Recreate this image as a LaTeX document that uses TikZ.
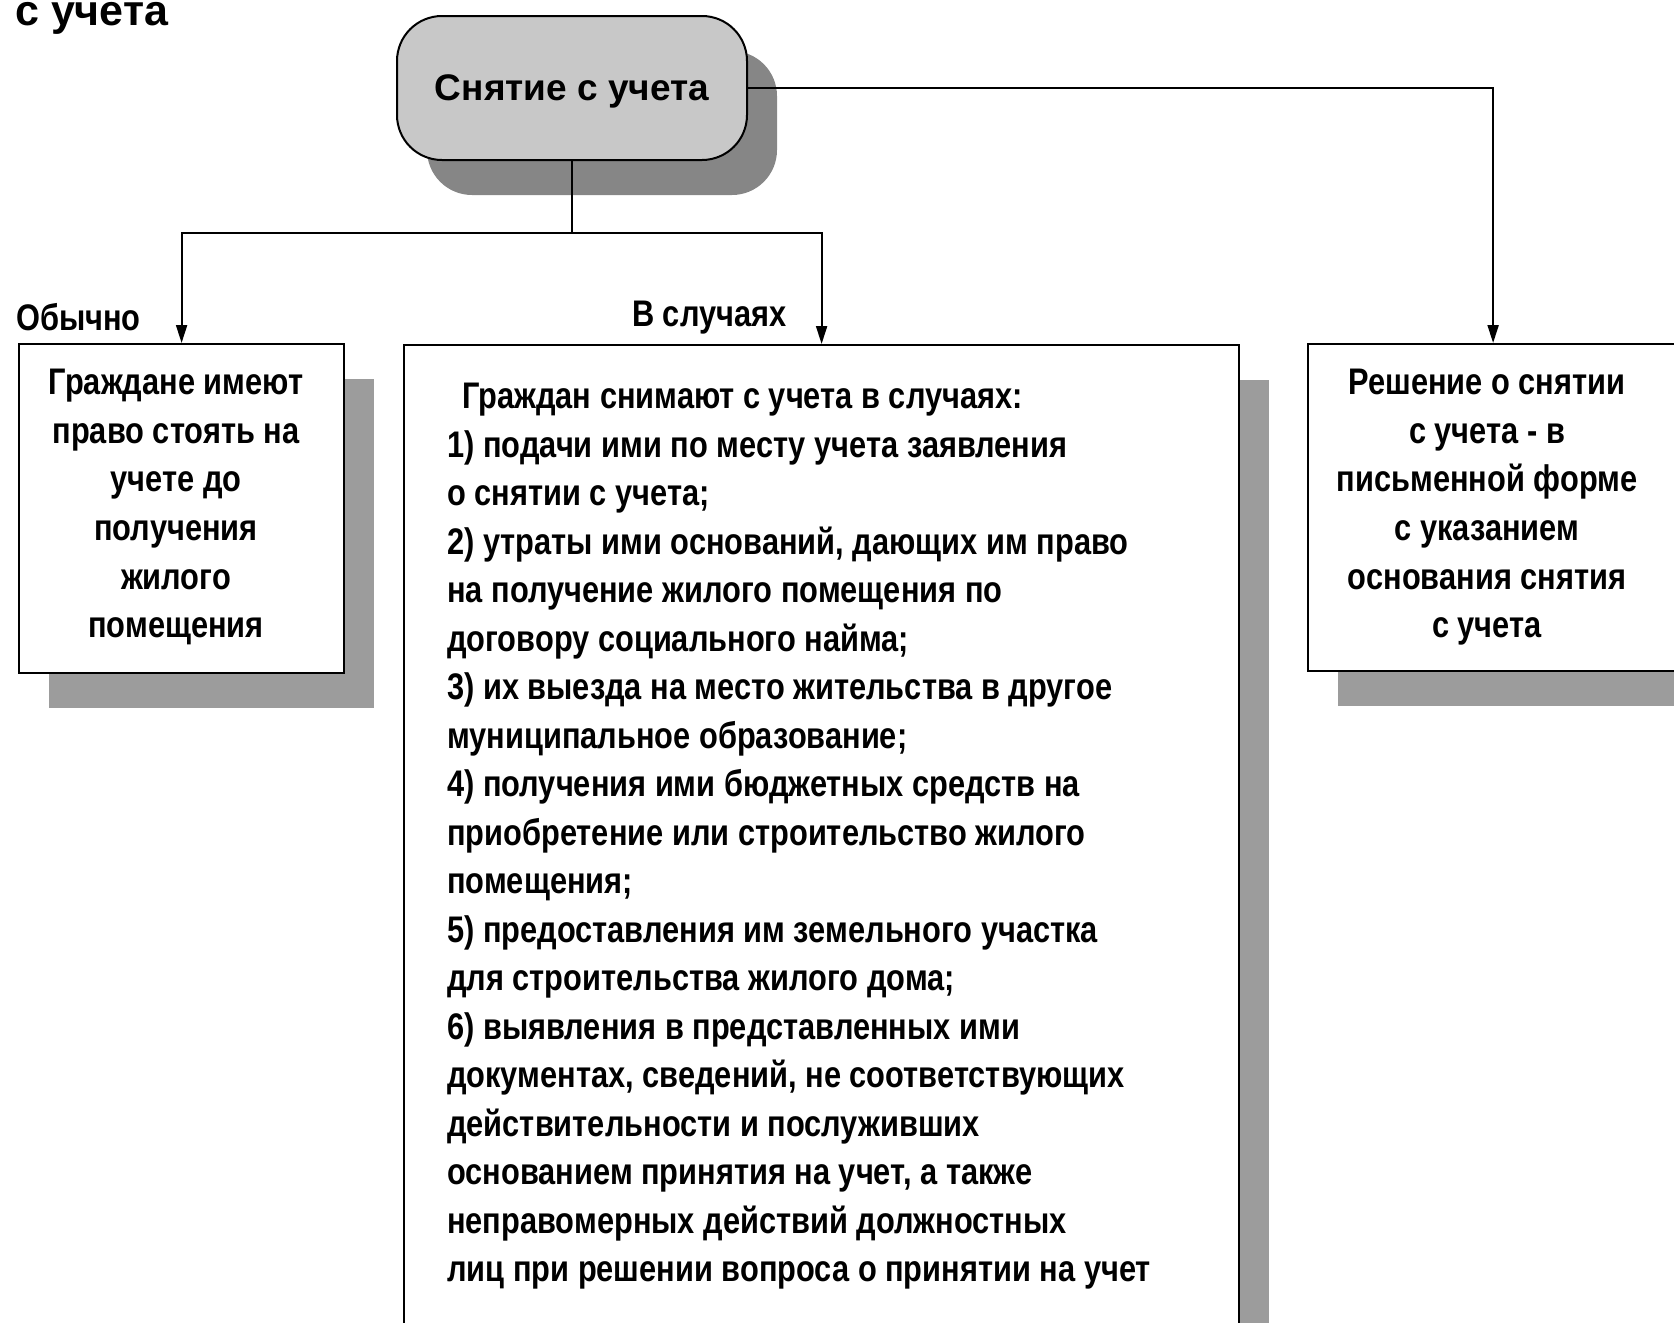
\documentclass[tikz,border=0pt]{standalone}
\usepackage{fontspec}
\setmainfont{Liberation Sans}
\newfontfamily\bodyfont{Liberation Sans}[FakeStretch=0.832]
\usetikzlibrary{arrows.meta,shadows}
\definecolor{stadfill}{HTML}{C8C8C8}
\definecolor{stadshadow}{HTML}{868686}
\definecolor{boxshadow}{HTML}{9C9C9C}
\newcommand\mystrut{\rule[-12pt]{0pt}{36pt}}
\begin{document}
\begin{tikzpicture}[x=1pt,y=-1pt,
  conn/.style={line width=2pt, draw=black},
  arr/.style={conn, -{Triangle[length=18pt,width=11pt]}},
  box/.style={draw=black, line width=2.2pt, fill=white, rectangle, inner sep=0pt, anchor=north west,
    drop shadow={shadow xshift=30pt, shadow yshift=-35pt, fill=boxshadow, opacity=1}},
  stadium/.style={draw=black, line width=2pt, fill=stadfill, rectangle, rounded corners=45pt,
    minimum width=350pt, minimum height=144pt, inner sep=0pt, text depth=0pt,
    font=\bfseries\fontsize{37}{44}\selectfont,
    drop shadow={shadow xshift=30pt, shadow yshift=-35pt, fill=stadshadow, opacity=1}},
  btext/.style={font=\bodyfont\bfseries\fontsize{37}{48.6}\selectfont, inner sep=0pt, align=center},
  lbl/.style={font=\bodyfont\bfseries\fontsize{37}{40}\selectfont, inner sep=0pt, anchor=base west},
  ]
\useasboundingbox (0,0) rectangle (1674,1323);
\clip (0,0) rectangle (1674,1323);

\node[font=\bfseries\fontsize{43}{50}\selectfont, anchor=base west, inner sep=0pt] (title) at (15,25) {с учета};

\node[stadium] (stad) at (572,88) {Снятие с учета};

\node[box, minimum width=325pt, minimum height=329pt] (lbox) at (18,343) {};
\node[box, minimum width=835pt, minimum height=1020pt] (mid) at (403,344) {};
\node[box, minimum width=370pt, minimum height=327pt] (rbox) at (1307,343) {};

\node[btext, anchor=north] (ltext) at (176,369) {\mystrut Граждане имеют\\право стоять на\\учете до\\получения\\жилого\\помещения};
\node[btext, anchor=north] (rtext) at (1487,369) {\mystrut Решение о снятии\\с учета - в\\письменной форме\\с указанием\\основания снятия\\с учета};
\node[btext, anchor=north west, align=left, font=\bodyfont\bfseries\fontsize{37}{48.5}\selectfont] (mtext) at (447,383) {\mystrut\hspace{15pt}Граждан снимают с учета в случаях:\\
1) подачи ими по месту учета заявления\\
о снятии с учета;\\
2) утраты ими оснований, дающих им право\\
на получение жилого помещения по\\
договору социального найма;\\
3) их выезда на место жительства в другое\\
муниципальное образование;\\
4) получения ими бюджетных средств на\\
приобретение или строительство жилого\\
помещения;\\
5) предоставления им земельного участка\\
для строительства жилого дома;\\
6) выявления в представленных ими\\
документах, сведений, не соответствующих\\
действительности и послуживших\\
основанием принятия на учет, а также\\
неправомерных действий должностных\\
лиц при решении вопроса о принятии на учет};

\node[lbl] (obychno) at (16,330) {Обычно};
\node[lbl] (vsl) at (632,326) {В случаях};

\coordinate (j) at (572,233);
\draw[conn] (stad.south) -- (j);
\draw[arr] (j) -| (lbox.north);
\draw[arr] (j) -| (mid.north);
\draw[arr] (stad.east) -| (rbox.north);
\end{tikzpicture}
\end{document}
